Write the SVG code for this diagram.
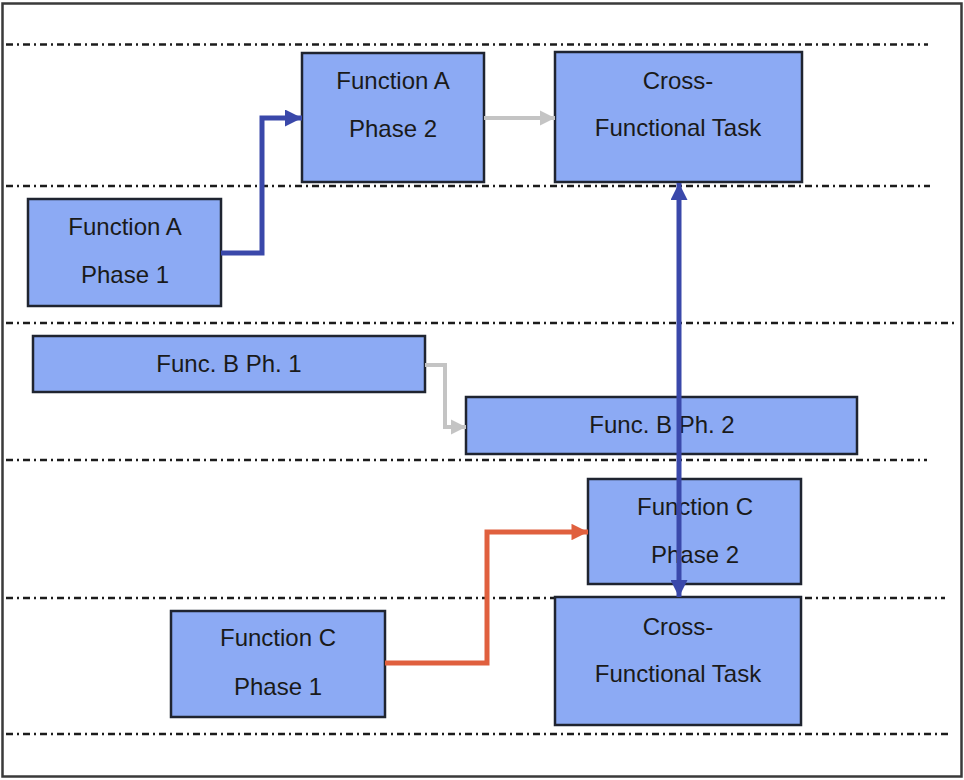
<svg xmlns="http://www.w3.org/2000/svg" width="964" height="780" viewBox="0 0 964 780">
  <style>
    .lane { stroke: #1c1c1c; stroke-width: 2.5; stroke-dasharray: 7 4 2 4; fill: none; }
    .box { fill: #8caaf4; stroke: #1f2430; stroke-width: 2.5; }
    .lbl { font-family: "Liberation Sans", Arial, sans-serif; font-size: 24px; fill: #1a1a1a; text-anchor: middle; }
    .blue { stroke: #3a48aa; stroke-width: 5; fill: none; }
    .red { stroke: #e0603e; stroke-width: 5; fill: none; }
    .gray { stroke: #c4c4c4; stroke-width: 4; fill: none; }
  </style>
  <defs>
    <marker id="headBlue" viewBox="0 0 10 10" refX="10" refY="5" markerWidth="3.4" markerHeight="3.4" orient="auto-start-reverse" markerUnits="strokeWidth">
      <path d="M0,0 L10,5 L0,10 Z" fill="#3a48aa"/>
    </marker>
    <marker id="headRed" viewBox="0 0 10 10" refX="10" refY="5" markerWidth="3.5" markerHeight="3.3" orient="auto" markerUnits="strokeWidth">
      <path d="M0,0 L10,5 L0,10 Z" fill="#e0603e"/>
    </marker>
    <marker id="headGray" viewBox="0 0 10 10" refX="10" refY="5" markerWidth="3.8" markerHeight="4" orient="auto" markerUnits="strokeWidth">
      <path d="M0,0 L10,5 L0,10 Z" fill="#c4c4c4"/>
    </marker>
  </defs>

  <rect x="0" y="0" width="964" height="780" fill="#ffffff"/>
  <!-- outer frame -->
  <rect x="2.5" y="3.5" width="959" height="773" fill="none" stroke="#3a3a3a" stroke-width="2.5"/>

  <!-- swimlane separators -->
  <g id="lanes">
    <line class="lane" x1="6" y1="44.5" x2="928" y2="44.5"/>
    <line class="lane" x1="6" y1="186" x2="930" y2="186"/>
    <line class="lane" x1="6" y1="323" x2="955" y2="323"/>
    <line class="lane" x1="6" y1="460" x2="927" y2="460"/>
    <line class="lane" x1="6" y1="598" x2="945" y2="598"/>
    <line class="lane" x1="6" y1="734" x2="948" y2="734"/>
  </g>

  <g id="nodes">
    <g id="fa1">
      <rect class="box" x="28" y="199" width="193" height="107"/>
      <text class="lbl" x="125" y="235">Function A</text>
      <text class="lbl" x="125" y="283">Phase 1</text>
    </g>
    <g id="fa2">
      <rect class="box" x="302" y="53" width="182" height="129"/>
      <text class="lbl" x="393" y="89">Function A</text>
      <text class="lbl" x="393" y="137">Phase 2</text>
    </g>
    <g id="cross1">
      <rect class="box" x="555" y="52" width="247" height="130"/>
      <text class="lbl" x="678" y="89">Cross-</text>
      <text class="lbl" x="678" y="136">Functional Task</text>
    </g>
    <g id="fb1">
      <rect class="box" x="33" y="336" width="392" height="56"/>
      <text class="lbl" x="229" y="372">Func. B Ph. 1</text>
    </g>
    <g id="fb2">
      <rect class="box" x="466" y="397" width="391" height="57"/>
      <text class="lbl" x="662" y="433">Func. B Ph. 2</text>
    </g>
    <g id="fc2">
      <rect class="box" x="588" y="479" width="213" height="105"/>
      <text class="lbl" x="695" y="515">Function C</text>
      <text class="lbl" x="695" y="563">Phase 2</text>
    </g>
    <g id="fc1">
      <rect class="box" x="171" y="611" width="214" height="106"/>
      <text class="lbl" x="278" y="646">Function C</text>
      <text class="lbl" x="278" y="695">Phase 1</text>
    </g>
    <g id="cross2">
      <rect class="box" x="555" y="597" width="246" height="128"/>
      <text class="lbl" x="678" y="635">Cross-</text>
      <text class="lbl" x="678" y="682">Functional Task</text>
    </g>
  </g>

  <g id="connectors">
    <path class="blue" d="M221,253 H262 V118 H302" marker-end="url(#headBlue)"/>
    <path class="gray" d="M484,118 H555" marker-end="url(#headGray)"/>
    <path class="gray" d="M425,365 H445 V427 H466" marker-end="url(#headGray)"/>
    <path class="red" d="M385,663 H487 V532 H588" marker-end="url(#headRed)"/>
    <path class="blue" d="M679,183 V597" marker-start="url(#headBlue)" marker-end="url(#headBlue)"/>
  </g>
</svg>
